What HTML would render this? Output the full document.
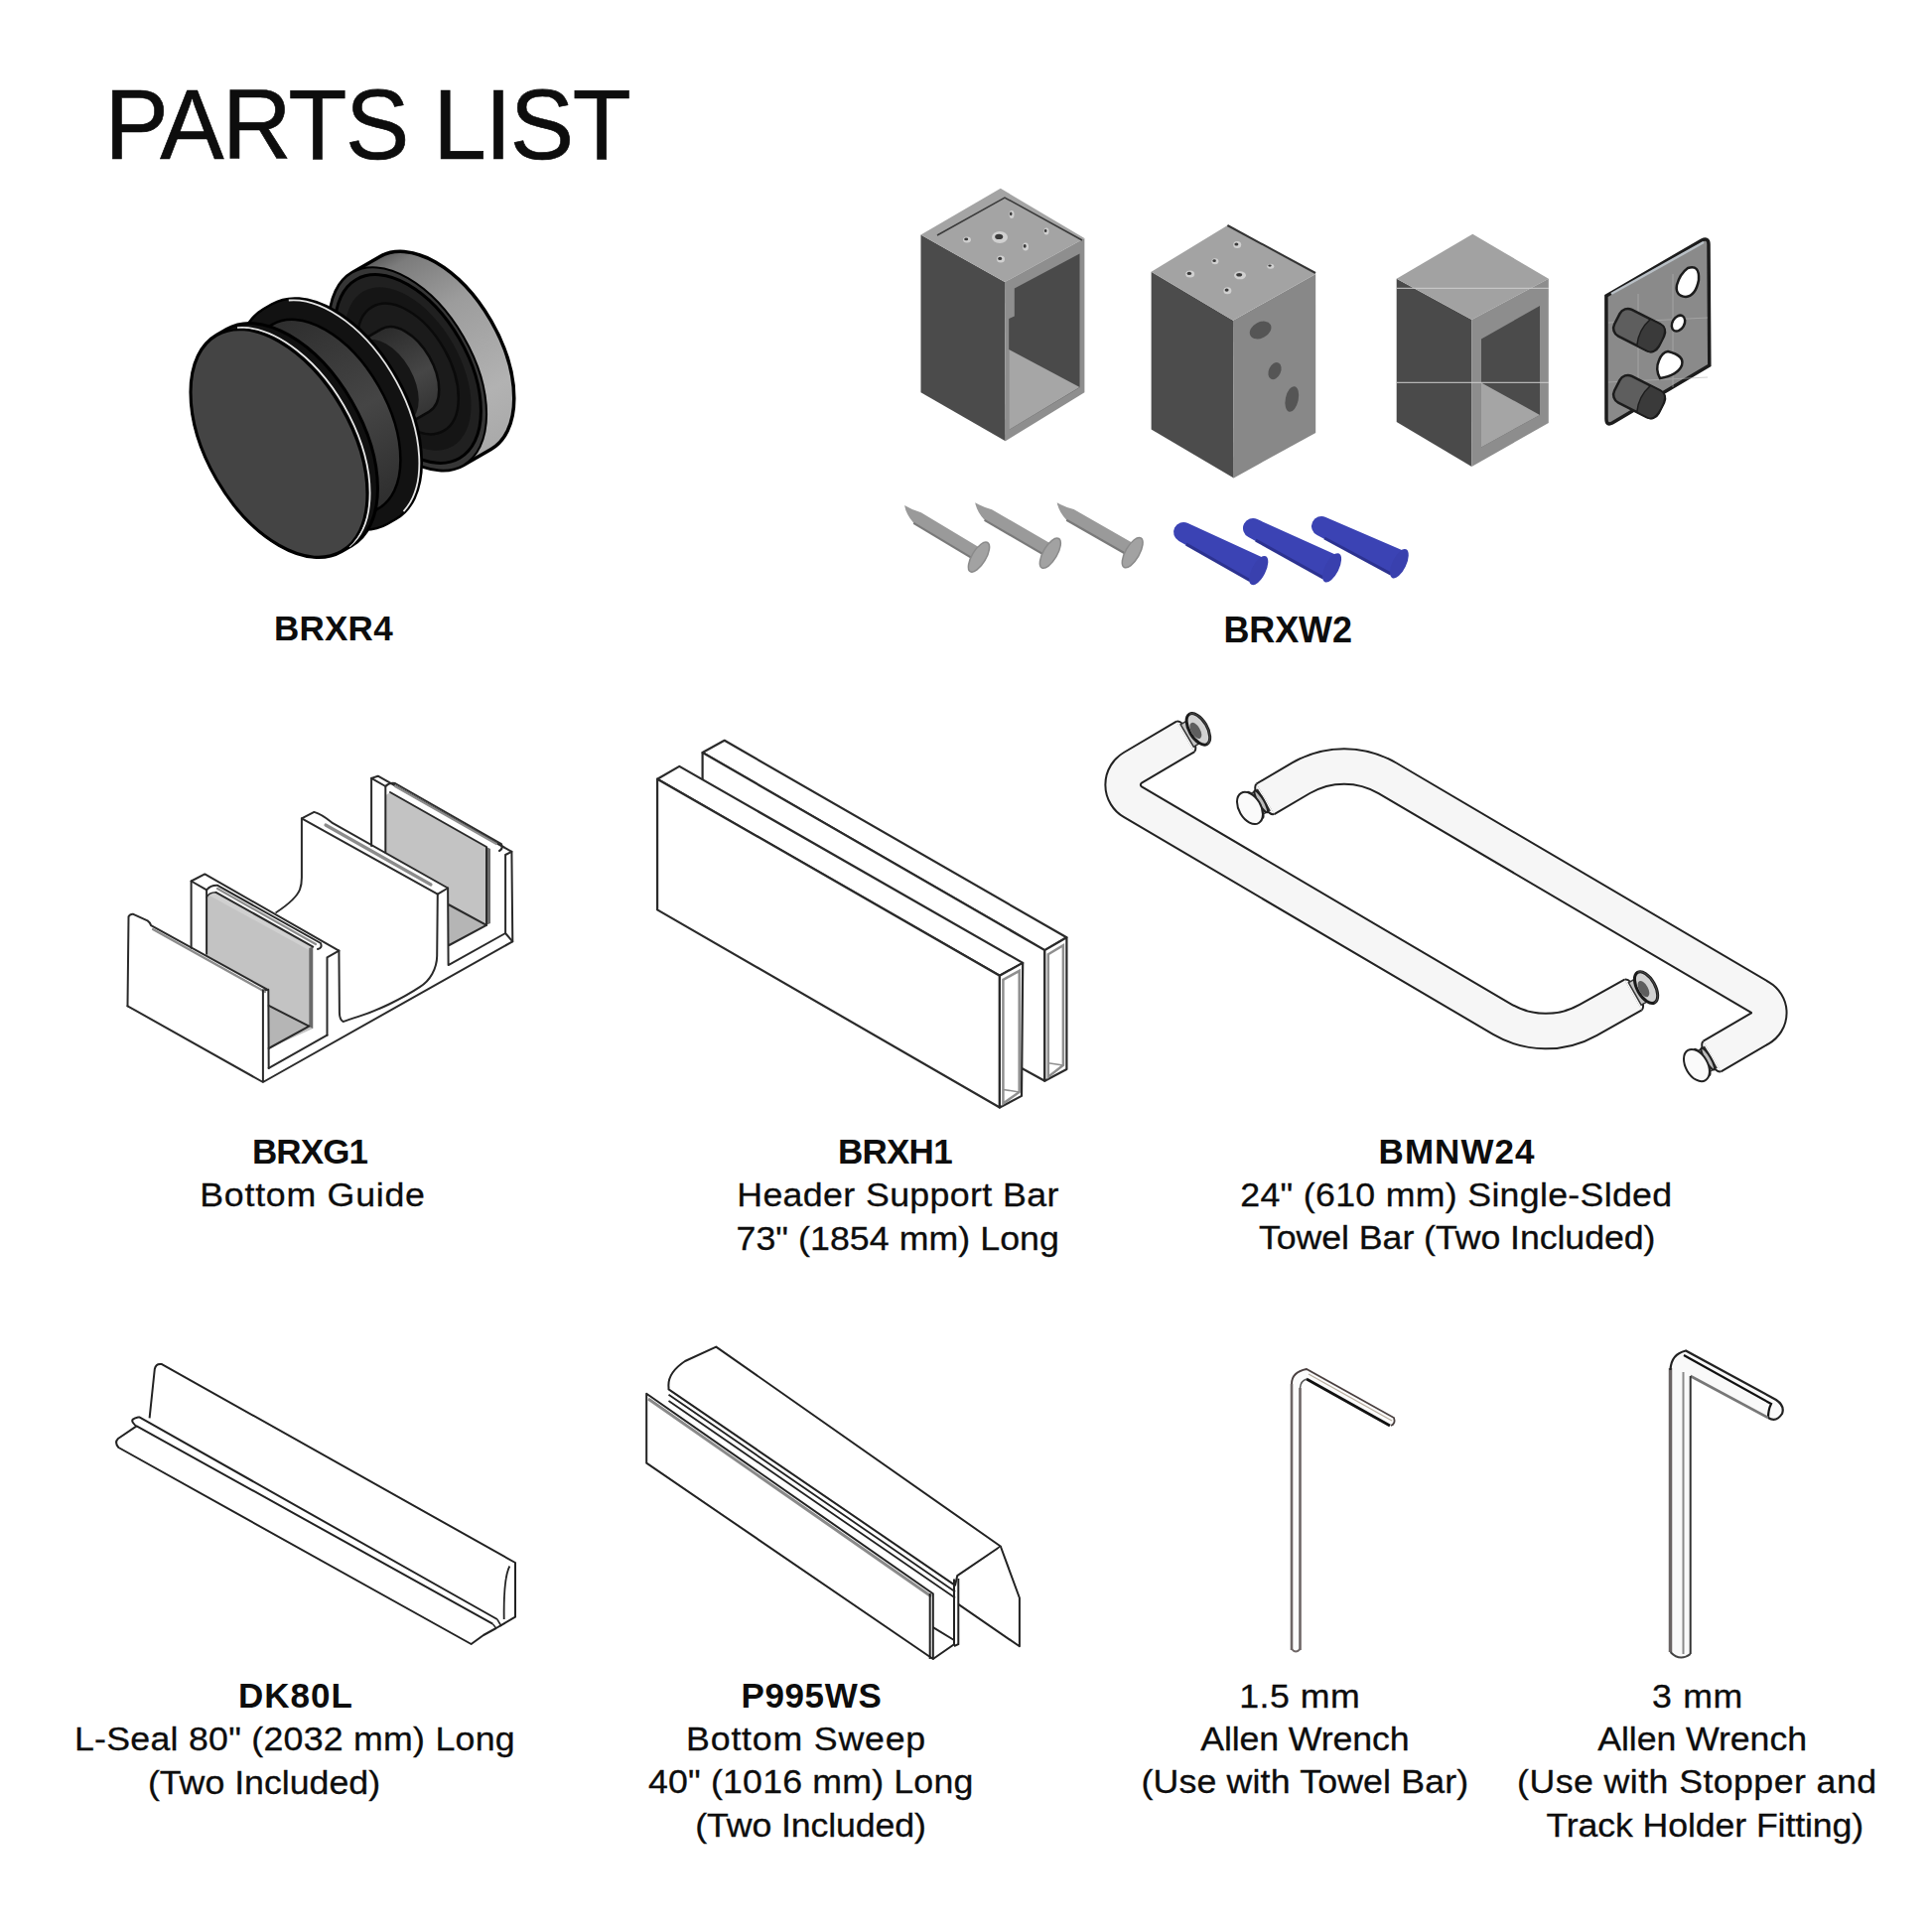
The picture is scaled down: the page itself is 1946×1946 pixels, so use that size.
<!DOCTYPE html>
<html><head><meta charset="utf-8"><title>Parts List</title>
<style>html,body{margin:0;padding:0;background:#fff;} svg{display:block;}</style></head>
<body><svg width="1946" height="1946" viewBox="0 0 1946 1946" font-family="'Liberation Sans', sans-serif" fill="#0d0d0d">
<rect width="1946" height="1946" fill="#fff"/>
<defs><linearGradient id="kband" x1="-120" y1="-150" x2="120" y2="-150" gradientUnits="userSpaceOnUse"><stop offset="0" stop-color="#505050"/><stop offset="0.1" stop-color="#7c7c7c"/><stop offset="0.35" stop-color="#9c9c9c"/><stop offset="0.75" stop-color="#b2b2b2"/><stop offset="1" stop-color="#a8a8a8"/></linearGradient><linearGradient id="kshaft" x1="-50" y1="0" x2="50" y2="0" gradientUnits="userSpaceOnUse"><stop offset="0" stop-color="#2a2a2a"/><stop offset="0.6" stop-color="#464646"/><stop offset="1" stop-color="#333"/></linearGradient><linearGradient id="kneck" x1="-106" y1="0" x2="106" y2="0" gradientUnits="userSpaceOnUse"><stop offset="0" stop-color="#2e2e2e"/><stop offset="0.55" stop-color="#454545"/><stop offset="1" stop-color="#2e2e2e"/></linearGradient></defs>
<g transform="translate(281,446.5) rotate(60)">
<path d="M-112,-150 L-112,-182 A112,64.62 0 0 1 112,-182 L112,-150 A112,64.62 0 0 1 -112,-150 Z" fill="url(#kband)" stroke="#000" stroke-width="3.5" />
<ellipse cx="0" cy="-150" rx="112" ry="64.62" fill="#363636" stroke="#000" stroke-width="2" />
<ellipse cx="0" cy="-150" rx="104" ry="60.01" fill="#202020" stroke="#000" stroke-width="3" />
<ellipse cx="0" cy="-150" rx="90" ry="51.93" fill="#151515" stroke="none" stroke-width="0" />
<ellipse cx="0" cy="-150" rx="72" ry="41.54" fill="#1b1b1b" stroke="#0a0a0a" stroke-width="2.5" />
<path d="M-48,-62 L-48,-147 A48,27.70 0 0 1 48,-147 L48,-62 A48,27.70 0 0 1 -48,-62 Z" fill="url(#kshaft)" stroke="#0a0a0a" stroke-width="2.5" />
<path d="M-46,-62 L-46,-125 A46,26.54 0 0 1 46,-125 L46,-62 A46,26.54 0 0 1 -46,-62 Z" fill="#161616" stroke="none" stroke-width="0" />
<path d="M-125,-54 L-125,-64 A125,72.12 0 0 1 125,-64 L125,-54 A125,72.12 0 0 1 -125,-54 Z" fill="#121212" stroke="#000" stroke-width="2.5" />
<path d="M-119.8,-80.5 A124,71.55 0 0 1 122.1,-74.4" fill="none" stroke="#e6e6e6" stroke-width="1.8"/>
<path d="M-107,-12 L-107,-54 A107,61.74 0 0 1 107,-54 L107,-12 A107,61.74 0 0 1 -107,-12 Z" fill="url(#kneck)" stroke="#000" stroke-width="2.5" />
<path d="M-126,0 L-126,-12 A126,72.70 0 0 1 126,-12 L126,0 A126,72.70 0 0 1 -126,0 Z" fill="#101010" stroke="#000" stroke-width="3" />
<path d="M-121.7,-21.8 A126,72.70 0 0 1 125.5,-9.3" fill="none" stroke="#e8e8e8" stroke-width="1.8"/>
<ellipse cx="0" cy="0" rx="125.5" ry="72.41" fill="#444444" stroke="#000" stroke-width="2.5" />
</g>
<polygon points="927.5,236.6 1012.0,284.1 1012.7,444.2 927.5,395.2" fill="#4b4b4b" stroke="none" stroke-width="0" />
<polygon points="927.5,236.6 1007.8,189.8 1092.4,240.1 1012.0,284.1" fill="#a4a4a4" stroke="none" stroke-width="0" />
<polygon points="1012.0,284.1 1092.4,240.1 1092.4,395.2 1012.7,444.2" fill="#8e8e8e" stroke="none" stroke-width="0" />
<polygon points="1021.8,290.4 1087.5,255.5 1087.5,390.3 1016.2,433.0 1016.2,321.0 1021.8,318.4" fill="#4a4a4a" stroke="none" stroke-width="0" />
<polygon points="1016.2,352.0 1087.5,390.0 1016.2,433.0" fill="#a6a6a6" stroke="none" stroke-width="0" />
<path d="M944,237 L1012,199 L1090,242" fill="none" stroke="#3a3a3a" stroke-width="1.5"/>
<ellipse cx="974" cy="241.5" rx="4" ry="3" fill="#d0d0d0"/><ellipse cx="973.2" cy="240.9" rx="2.0" ry="1.35" fill="#3a3a3a"/>
<ellipse cx="1007" cy="239" rx="8" ry="6" fill="#d0d0d0"/><ellipse cx="1006.2" cy="238.4" rx="4.0" ry="2.7" fill="#3a3a3a"/>
<ellipse cx="1033" cy="248.5" rx="3" ry="4" fill="#d0d0d0"/><ellipse cx="1032.2" cy="247.9" rx="1.5" ry="1.8" fill="#3a3a3a"/>
<ellipse cx="1008" cy="261" rx="4" ry="3.5" fill="#d0d0d0"/><ellipse cx="1007.2" cy="260.4" rx="2.0" ry="1.575" fill="#3a3a3a"/>
<ellipse cx="1019" cy="216" rx="2.5" ry="4" fill="#d0d0d0"/><ellipse cx="1018.2" cy="215.4" rx="1.25" ry="1.8" fill="#3a3a3a"/>
<ellipse cx="1054" cy="233" rx="2.5" ry="3.5" fill="#d0d0d0"/><ellipse cx="1053.2" cy="232.4" rx="1.25" ry="1.575" fill="#3a3a3a"/>
<polygon points="1159.6,273.8 1242.0,322.7 1242.7,481.4 1159.6,432.4" fill="#4c4c4c" stroke="none" stroke-width="0" />
<polygon points="1242.0,322.7 1325.2,275.9 1325.2,435.9 1242.7,481.4" fill="#888888" stroke="none" stroke-width="0" />
<polygon points="1159.6,273.8 1236.4,227.0 1325.2,275.9 1242.0,322.7" fill="#a3a3a3" stroke="none" stroke-width="0" />
<path d="M1236.4,227 L1325,275" stroke="#333" stroke-width="2" fill="none"/>
<ellipse cx="1269.6" cy="332.5" rx="11.5" ry="8" transform="rotate(-28 1269.6 332.5)" fill="#555"/>
<ellipse cx="1284" cy="373.6" rx="6" ry="9" transform="rotate(25 1284 373.6)" fill="#555"/>
<ellipse cx="1301.3" cy="402" rx="6.5" ry="13" transform="rotate(12 1301.3 402)" fill="#555"/>
<ellipse cx="1198.7" cy="276" rx="4.5" ry="3.5" fill="#d0d0d0"/><ellipse cx="1197.9" cy="275.4" rx="2.25" ry="1.575" fill="#3a3a3a"/>
<ellipse cx="1223.9" cy="263.3" rx="3.5" ry="3" fill="#d0d0d0"/><ellipse cx="1223.1000000000001" cy="262.7" rx="1.75" ry="1.35" fill="#3a3a3a"/>
<ellipse cx="1246.2" cy="246.6" rx="4" ry="3.5" fill="#d0d0d0"/><ellipse cx="1245.4" cy="246.0" rx="2.0" ry="1.575" fill="#3a3a3a"/>
<ellipse cx="1249" cy="277.3" rx="6" ry="4" fill="#d0d0d0"/><ellipse cx="1248.2" cy="276.7" rx="3.0" ry="1.8" fill="#3a3a3a"/>
<ellipse cx="1236.4" cy="292.7" rx="4" ry="3.5" fill="#d0d0d0"/><ellipse cx="1235.6000000000001" cy="292.09999999999997" rx="2.0" ry="1.575" fill="#3a3a3a"/>
<ellipse cx="1279.8" cy="268.2" rx="3.5" ry="2.5" fill="#d0d0d0"/><ellipse cx="1279.0" cy="267.59999999999997" rx="1.75" ry="1.125" fill="#3a3a3a"/>
<polygon points="1406.7,280.7 1482.4,322.1 1482.4,470.0 1406.7,425.0" fill="#4a4a4a" stroke="none" stroke-width="0" />
<polygon points="1406.7,280.7 1483.3,235.8 1559.8,280.7 1482.4,322.1" fill="#a2a2a2" stroke="none" stroke-width="0" />
<polygon points="1482.4,322.1 1559.8,280.7 1559.8,425.9 1482.4,470.0" fill="#8d8d8d" stroke="none" stroke-width="0" />
<polygon points="1492.0,341.4 1551.0,308.0 1551.0,418.0 1492.0,450.5" fill="#4b4b4b" stroke="none" stroke-width="0" />
<polygon points="1492.0,385.4 1551.0,418.0 1492.0,450.5" fill="#a5a5a5" stroke="none" stroke-width="0" />
<path d="M1407,290.4 L1560,290.4 M1407,385.4 L1560,385.4" stroke="#cfcfcf" stroke-width="1.3" opacity="0.8"/>
<path d="M1617.9,298 L1714,242 Q1721,239 1721,246 L1721.8,368 L1624,426 Q1618,429 1618,422 Z" fill="#8a8a8a" stroke="#1c1c1c" stroke-width="3.5"/>
<path d="M1623,296 L1716,244" stroke="#b9c0c6" stroke-width="2.5"/>
<path d="M1650,296 L1650,410 M1685,276 L1685,390 M1620,325 L1720,320 M1620,385 L1720,380" stroke="#b5b5b5" stroke-width="1" opacity="0.6"/>
<g transform="translate(1652,333) rotate(27)"><rect x="-26" y="-15" width="50" height="30" rx="9" fill="#5e5e5e" stroke="#1c1c1c" stroke-width="2.5"/><path d="M4,-15 L16,-15 Q24,-15 24,0 Q24,15 16,15 L4,15 Q-2,0 4,-15 Z" fill="#3a3a3a" stroke="#1c1c1c" stroke-width="1.5"/></g>
<g transform="translate(1652,400) rotate(27)"><rect x="-26" y="-15" width="50" height="30" rx="9" fill="#5e5e5e" stroke="#1c1c1c" stroke-width="2.5"/><path d="M4,-15 L16,-15 Q24,-15 24,0 Q24,15 16,15 L4,15 Q-2,0 4,-15 Z" fill="#3a3a3a" stroke="#1c1c1c" stroke-width="1.5"/></g>
<path d="M1700,270 Q1712,266 1711,282 Q1708,298 1698,299 Q1687,298 1689,287 Q1692,276 1700,270 Z" fill="#fff" stroke="#1c1c1c" stroke-width="2.5"/>
<ellipse cx="1690.5" cy="325.6" rx="6" ry="8.5" transform="rotate(30 1690.5 325.6)" fill="#fff" stroke="#1c1c1c" stroke-width="2.5"/>
<path d="M1680,354 Q1697,358 1694,368 Q1690,378 1672,381 Q1667,372 1671,363 Q1674,355 1680,354 Z" fill="#fff" stroke="#1c1c1c" stroke-width="2.5"/>
<g transform="translate(909,512.5) rotate(31)"><path d="M0,-4 Q10,-4 18,-6.5 L87,-6.5 L87,6.5 L17,6.5 Q6,3 0,-4 Z" fill="#9a9a9a"/><path d="M17,6.5 L87,6.5" stroke="#7a7a7a" stroke-width="2.2"/><ellipse cx="91" cy="2" rx="7" ry="17" fill="#a2a2a2" stroke="#8a8a8a" stroke-width="1.5"/></g>
<g transform="translate(980.2,509.7) rotate(30.2)"><path d="M0,-4 Q10,-4 18,-6.5 L87,-6.5 L87,6.5 L17,6.5 Q6,3 0,-4 Z" fill="#9a9a9a"/><path d="M17,6.5 L87,6.5" stroke="#7a7a7a" stroke-width="2.2"/><ellipse cx="91" cy="2" rx="7" ry="17" fill="#a2a2a2" stroke="#8a8a8a" stroke-width="1.5"/></g>
<g transform="translate(1062.7,509.7) rotate(29.8)"><path d="M0,-4 Q10,-4 18,-6.5 L87,-6.5 L87,6.5 L17,6.5 Q6,3 0,-4 Z" fill="#9a9a9a"/><path d="M17,6.5 L87,6.5" stroke="#7a7a7a" stroke-width="2.2"/><ellipse cx="91" cy="2" rx="7" ry="17" fill="#a2a2a2" stroke="#8a8a8a" stroke-width="1.5"/></g>
<g transform="translate(1192,536) rotate(27)"><path d="M0,-10 L82,-13.5 L82,13.5 L0,10 A10,10 0 0 1 0,-10 Z" fill="#3b43b4"/><path d="M8,9.5 L82,13" stroke="#2c3290" stroke-width="3"/><ellipse cx="85" cy="0" rx="7" ry="16" fill="#3940ae"/></g>
<g transform="translate(1262,532) rotate(26.6)"><path d="M0,-10 L86,-13.5 L86,13.5 L0,10 A10,10 0 0 1 0,-10 Z" fill="#3b43b4"/><path d="M8,9.5 L86,13" stroke="#2c3290" stroke-width="3"/><ellipse cx="89" cy="0" rx="7" ry="16" fill="#3940ae"/></g>
<g transform="translate(1331,530) rotate(25.7)"><path d="M0,-10 L84,-13.5 L84,13.5 L0,10 A10,10 0 0 1 0,-10 Z" fill="#3b43b4"/><path d="M8,9.5 L84,13" stroke="#2c3290" stroke-width="3"/><ellipse cx="87" cy="0" rx="7" ry="16" fill="#3940ae"/></g>
<polygon points="208.1,904.0 212.0,899.5 217.6,898.8 315.2,953.6 315.2,1036.0 270.7,1056.0 270.7,996.3 208.1,962.9" fill="#c3c3c3" stroke="none" stroke-width="0" />
<polygon points="270.7,1012.9 311.3,1033.6 270.7,1056.0" fill="#b5b5b5" stroke="none" stroke-width="0" />
<polygon points="211.0,902.0 217.6,898.8 315.2,953.6 313.0,958.0" fill="#d0d0d0" stroke="none" stroke-width="0" />
<polygon points="311.3,955.0 315.2,953.6 315.2,1036.0 311.3,1034.0" fill="#6a6a6a" stroke="none" stroke-width="0" />
<polygon points="388.3,801.3 393.0,798.0 490.0,853.0 490.0,931.8 451.6,952.5 451.6,894.5 440.8,900.7 451.1,894.5 388.3,858.6" fill="#c3c3c3" stroke="none" stroke-width="0" />
<polygon points="451.6,911.0 490.0,931.8 451.6,952.5" fill="#b5b5b5" stroke="none" stroke-width="0" />
<polygon points="490.0,853.0 494.0,855.0 494.0,930.0 490.0,931.8" fill="#6a6a6a" stroke="none" stroke-width="0" />
<path d="M128.5,1013.3 L129.5,923.2 Q131,920.5 134.3,920.8 L148.6,927.4 Q151,929 152.1,932.1 L269.8,997 L264.9,997.5" fill="none" stroke="#2a2a2a" stroke-width="2" stroke-linejoin="round" stroke-linecap="round"/>
<path d="M154,936 L267,999" fill="none" stroke="#8c8c8c" stroke-width="2.2" stroke-linejoin="round" stroke-linecap="round"/>
<path d="M264.9,997.5 L264.9,1090 M270.3,996.8 L270.7,1075.9 M128.5,1013.3 L264.9,1090 L516.3,948.3 L515.4,857.8" fill="none" stroke="#2a2a2a" stroke-width="2" stroke-linejoin="round" stroke-linecap="round"/>
<path d="M270.7,1075.9 L329.5,1042.7 M270.7,1056 L311.3,1033.6 M270.7,1012.9 L311.3,1033.6" fill="none" stroke="#2a2a2a" stroke-width="2" stroke-linejoin="round" stroke-linecap="round"/>
<path d="M192.6,954.8 L192.6,887.5 L206.3,880.4 L341.4,957.7 L329.5,964.3 L329.5,1042.7" fill="none" stroke="#2a2a2a" stroke-width="2" stroke-linejoin="round" stroke-linecap="round"/>
<path d="M192.6,887.5 L208.1,896.4 Q212,891.5 218.8,891.7 L323,950 Q325,955 320,956" fill="none" stroke="#2a2a2a" stroke-width="2" stroke-linejoin="round" stroke-linecap="round"/>
<path d="M219,895 L318,951" fill="none" stroke="#8c8c8c" stroke-width="2.2" stroke-linejoin="round" stroke-linecap="round"/>
<path d="M208.1,896.4 L208.1,960.7" fill="none" stroke="#2a2a2a" stroke-width="2" stroke-linejoin="round" stroke-linecap="round"/>
<path d="M217.6,898.8 L315.2,953.6" fill="none" stroke="#2a2a2a" stroke-width="2" stroke-linejoin="round" stroke-linecap="round"/>
<path d="M208.1,904 Q210,899 217.6,898.8" fill="none" stroke="#2a2a2a" stroke-width="1.5" stroke-linejoin="round" stroke-linecap="round"/>
<path d="M278.3,919 Q298,906 302,896 Q303.9,891 303.9,884 L303.9,824.4 L316.4,817.9 Q324,820 334.3,828.6 L451.1,894.5 L440.8,900.7 L440.2,962.8 C440,976 433,988 423.2,993.9 C405,1006 380,1018 361.1,1023.9 Q349,1028 345.5,1029 Q342,1027 341.9,1020 L341.4,957.6" fill="none" stroke="#2a2a2a" stroke-width="2" stroke-linejoin="round" stroke-linecap="round"/>
<path d="M303.9,824.4 L440.8,900.7" fill="none" stroke="#2a2a2a" stroke-width="2" stroke-linejoin="round" stroke-linecap="round"/>
<path d="M328,831 L434,891" fill="none" stroke="#8c8c8c" stroke-width="3.2" stroke-linejoin="round" stroke-linecap="round"/>
<path d="M451.1,894.5 L451.6,972.1 L509.1,940 M451.6,952.5 L490,931.8 M451.6,911 L490,931.8" fill="none" stroke="#2a2a2a" stroke-width="2" stroke-linejoin="round" stroke-linecap="round"/>
<path d="M374.1,852 L374.1,783.9 L380.7,781.7 L515.4,857.8 L509.1,861 L509.1,940 M516.3,948.3 L509.1,940" fill="none" stroke="#2a2a2a" stroke-width="2" stroke-linejoin="round" stroke-linecap="round"/>
<path d="M374.1,783.9 L388.3,792 Q392,788 398,789 L505,850 Q507,855 503,857" fill="none" stroke="#2a2a2a" stroke-width="2" stroke-linejoin="round" stroke-linecap="round"/>
<path d="M398,792 L500,850" fill="none" stroke="#8c8c8c" stroke-width="2.2" stroke-linejoin="round" stroke-linecap="round"/>
<path d="M388.3,792 L388.3,858.6 M393,798 L490,853 L490,931.8" fill="none" stroke="#2a2a2a" stroke-width="2" stroke-linejoin="round" stroke-linecap="round"/>
<polygon points="707.6,758.0 729.7,745.8 1074.4,944.3 1052.3,957.1" fill="#fff" stroke="#2a2a2a" stroke-width="2.2" stroke-linejoin="round"/><polygon points="707.6,758.0 1052.3,957.1 1052.3,1088.7 707.6,900.0" fill="#fff" stroke="#2a2a2a" stroke-width="2.2" stroke-linejoin="round"/><polygon points="1052.3,957.1 1074.4,944.3 1074.4,1077.0 1052.3,1088.7" fill="#fff" stroke="#2a2a2a" stroke-width="2.2" stroke-linejoin="round"/><polygon points="1055.8,961.2 1070.9,952.2 1070.9,1073.0 1055.8,1084.7" fill="#fff" stroke="#8f8f8f" stroke-width="2.5" /><polyline points="1055.8,1070.7 1070.9,1073.0" fill="none" stroke="#8f8f8f" stroke-width="1.5" stroke-linejoin="round"/>
<polygon points="662.1,784.7 684.3,771.9 1030.2,969.9 1006.9,982.7" fill="#fff" stroke="#2a2a2a" stroke-width="2.2" stroke-linejoin="round"/><polygon points="662.1,784.7 1006.9,982.7 1006.9,1115.5 662.1,916.4" fill="#fff" stroke="#2a2a2a" stroke-width="2.2" stroke-linejoin="round"/><polygon points="1006.9,982.7 1030.2,969.9 1029.0,1103.9 1006.9,1115.5" fill="#fff" stroke="#2a2a2a" stroke-width="2.2" stroke-linejoin="round"/><polygon points="1010.4,986.8 1026.7,977.8 1026.7,1099.9 1010.4,1111.5" fill="#fff" stroke="#8f8f8f" stroke-width="2.5" /><polyline points="1010.4,1097.5 1026.7,1099.9" fill="none" stroke="#8f8f8f" stroke-width="1.5" stroke-linejoin="round"/>
<path d="M1194.0,742.0 L1140.9,773.3 A20,20 0 0 0 1140.9,807.7 L1513.0,1026.6 A87,87 0 0 0 1599.8,1027.4 L1645.0,1002.0" fill="none" stroke="#222" stroke-width="37.5"/>
<path d="M1194.0,742.0 L1140.9,773.3 A20,20 0 0 0 1140.9,807.7 L1513.0,1026.6 A87,87 0 0 0 1599.8,1027.4 L1645.0,1002.0" fill="none" stroke="#f6f6f6" stroke-width="33.5"/>
<path d="M1274.5,804.8 L1310.4,783.7 A86,86 0 0 1 1397.5,783.8 L1772.9,1004.6 A18,18 0 0 1 1772.9,1035.7 L1724.5,1064.0" fill="none" stroke="#222" stroke-width="37.5"/>
<path d="M1274.5,804.8 L1310.4,783.7 A86,86 0 0 1 1397.5,783.8 L1772.9,1004.6 A18,18 0 0 1 1772.9,1035.7 L1724.5,1064.0" fill="none" stroke="#f6f6f6" stroke-width="33.5"/>
<g transform="translate(1194.0,742.0) rotate(-30.5)"><path d="M0,-17.5 A6,17.5 0 0 1 0,17.5" fill="#f6f6f6" stroke="#222" stroke-width="2"/><rect x="2" y="-13" width="12" height="26" fill="#c4c4c4" stroke="#333" stroke-width="1.5"/><ellipse cx="15" cy="0" rx="9" ry="17.5" fill="#d2d2d2" stroke="#1a1a1a" stroke-width="3"/><ellipse cx="12" cy="0" rx="4.5" ry="9" fill="#5e5e5e"/><path d="M15,-17.5 A9,17.5 0 0 1 15,17.5" fill="none" stroke="#444" stroke-width="1.2"/></g>
<g transform="translate(1645.0,1002.0) rotate(-29.4)"><path d="M0,-17.5 A6,17.5 0 0 1 0,17.5" fill="#f6f6f6" stroke="#222" stroke-width="2"/><rect x="2" y="-13" width="12" height="26" fill="#c4c4c4" stroke="#333" stroke-width="1.5"/><ellipse cx="15" cy="0" rx="9" ry="17.5" fill="#d2d2d2" stroke="#1a1a1a" stroke-width="3"/><ellipse cx="12" cy="0" rx="4.5" ry="9" fill="#5e5e5e"/><path d="M15,-17.5 A9,17.5 0 0 1 15,17.5" fill="none" stroke="#444" stroke-width="1.2"/></g>
<g transform="translate(1274.5,804.8) rotate(149.6)"><path d="M0,-17.5 A6,17.5 0 0 1 0,17.5" fill="#f6f6f6" stroke="#222" stroke-width="2"/><rect x="2" y="-12" width="11" height="24" fill="#d2d2d2" stroke="#333" stroke-width="1.5"/><ellipse cx="5" cy="0" rx="3" ry="12.5" fill="#bbb" stroke="#222" stroke-width="2.2"/><ellipse cx="12" cy="0" rx="3.5" ry="15" fill="#ddd" stroke="#222" stroke-width="2.2"/><ellipse cx="18" cy="0" rx="11" ry="17.5" fill="#fafafa" stroke="#222" stroke-width="2"/></g>
<g transform="translate(1724.5,1064.0) rotate(149.7)"><path d="M0,-17.5 A6,17.5 0 0 1 0,17.5" fill="#f6f6f6" stroke="#222" stroke-width="2"/><rect x="2" y="-12" width="11" height="24" fill="#d2d2d2" stroke="#333" stroke-width="1.5"/><ellipse cx="5" cy="0" rx="3" ry="12.5" fill="#bbb" stroke="#222" stroke-width="2.2"/><ellipse cx="12" cy="0" rx="3.5" ry="15" fill="#ddd" stroke="#222" stroke-width="2.2"/><ellipse cx="18" cy="0" rx="11" ry="17.5" fill="#fafafa" stroke="#222" stroke-width="2"/></g>
<path d="M150.6,1428.3 L155.8,1379 Q157,1373 163,1374.1 L519,1574 L519,1628.7 L499.7,1640 L487,1647 L474.6,1656 L119.4,1458 Q115,1453 119,1449 L137.6,1436.3" fill="#fff" stroke="#222" stroke-width="2" stroke-linejoin="round"/>
<path d="M139.9,1427.2 L500.8,1631 M137.6,1436.3 L496.3,1635.6 M139.9,1427.2 Q131,1429 134,1433 Q136,1436 137.6,1436.3" fill="none" stroke="#222" stroke-width="2"/>
<path d="M513.3,1577.5 Q507,1590 507.7,1631" fill="none" stroke="#222" stroke-width="1.8"/>
<path d="M500.8,1631 L505,1638 M496.3,1635.6 L499.7,1640" fill="none" stroke="#222" stroke-width="1.5"/>
<path d="M673.5,1397.3 Q672,1383 690,1371 L721.3,1356.6 L1007.8,1557.5 L964.2,1587.2 L962.1,1596.8 L673.5,1399.4 Z" fill="#fff" stroke="#222" stroke-width="2" stroke-linejoin="round"/>
<path d="M673.5,1404.7 L962.1,1603.2 M673.5,1411.1 L962.1,1609.5" fill="none" stroke="#222" stroke-width="1.8"/>
<path d="M1007.8,1557.5 L1026.9,1609.5 L1026.9,1658.3 L965.3,1615.9" fill="#fff" stroke="#222" stroke-width="2" stroke-linejoin="round"/>
<path d="M651.2,1403.7 L939.8,1605.3 L939.8,1671 L651.2,1473.7 Z" fill="#fff" stroke="#222" stroke-width="2" stroke-linejoin="round"/>
<path d="M653,1409 L938,1608" stroke="#8a8a8a" stroke-width="3"/>
<path d="M939.8,1671 L961,1656.2 L961,1590.4 M965.3,1590 L965.3,1656.2 L961,1658 M939.8,1639.2 L961,1652 M936.7,1605 L936.7,1671" fill="none" stroke="#222" stroke-width="2"/>
<path d="M1301,1662 L1301,1394 Q1301,1382 1316,1379 L1404,1428 Q1406,1434 1401,1436 L1316,1389 Q1310,1391 1310,1398 L1310,1662 Q1305,1664 1301,1662 Z" fill="#fbfbfb" stroke="none"/>
<path d="M1301,1662 L1301,1394 M1309.5,1398 L1309.5,1662" fill="none" stroke="#6e6666" stroke-width="2.6"/>
<path d="M1301,1394 Q1301,1382 1316,1379 L1404,1428 Q1406,1434 1401,1436" fill="none" stroke="#4a4040" stroke-width="1.8"/>
<path d="M1318,1384 L1402,1431" fill="none" stroke="#b9aea0" stroke-width="1.2"/>
<path d="M1316,1389 L1400,1436" stroke="#111" stroke-width="2.8"/>
<path d="M1316,1389 Q1310,1391 1309.5,1398" fill="none" stroke="#555" stroke-width="1.5"/>
<path d="M1301,1661 Q1305,1666 1309.5,1661" fill="none" stroke="#6e6666" stroke-width="2"/>
<path d="M1682.5,1666 L1682.5,1378 Q1683,1364 1698,1360.5 L1789,1410 Q1798,1416 1795,1424 Q1789,1433 1781,1428 L1705,1387 L1702.7,1666 Q1692,1672 1682.5,1666 Z" fill="#f9f9f9" stroke="none"/>
<path d="M1682.5,1664 L1682.5,1378" fill="none" stroke="#6a6464" stroke-width="3.5"/>
<path d="M1682.5,1380 Q1683,1364 1698,1360.5 L1789,1410 Q1798,1416 1795,1424 Q1789,1433 1781,1428" fill="none" stroke="#222" stroke-width="2.2"/>
<path d="M1696,1365 L1784,1414 Q1781,1420 1781,1428" fill="none" stroke="#111" stroke-width="2.2"/>
<path d="M1702.7,1386 L1781,1428" fill="none" stroke="#777" stroke-width="2.6"/>
<path d="M1702.7,1386 L1702.7,1666" fill="none" stroke="#333" stroke-width="2"/>
<path d="M1695.5,1382 L1695.5,1666" fill="none" stroke="#8a8a8a" stroke-width="2"/>
<path d="M1682.5,1664 Q1692,1674 1702.7,1666" fill="none" stroke="#444" stroke-width="2"/>
<text transform="translate(105.4,160) scale(0.955,1)" font-size="101" font-weight="400" textLength="555.3" lengthAdjust="spacing" stroke="#0d0d0d" stroke-width="0.7">PARTS LIST</text>
<text transform="translate(276.0,645) scale(1.0,1)" font-size="35" font-weight="700" textLength="119.6" lengthAdjust="spacing">BRXR4</text>
<text transform="translate(1232.5,646.5) scale(1.0,1)" font-size="36" font-weight="700" textLength="129.5" lengthAdjust="spacing">BRXW2</text>
<text transform="translate(254.0,1172.3) scale(1.0,1)" font-size="35" font-weight="700" textLength="116.9" lengthAdjust="spacing">BRXG1</text>
<text transform="translate(201.3,1215.4) scale(1.05,1)" font-size="34" font-weight="400" textLength="215.8" lengthAdjust="spacing" stroke="#0d0d0d" stroke-width="0.3">Bottom Guide</text>
<text transform="translate(844.0,1172.2) scale(1.0,1)" font-size="35" font-weight="700" textLength="115.6" lengthAdjust="spacing">BRXH1</text>
<text transform="translate(742.2,1214.6) scale(1.05,1)" font-size="34" font-weight="400" textLength="308.7" lengthAdjust="spacing" stroke="#0d0d0d" stroke-width="0.3">Header Support Bar</text>
<text transform="translate(741.5,1258.7) scale(1.05,1)" font-size="34" font-weight="400" textLength="309.9" lengthAdjust="spacing" stroke="#0d0d0d" stroke-width="0.3">73&quot; (1854 mm) Long</text>
<text transform="translate(1388.6,1172.4) scale(1.0,1)" font-size="35" font-weight="700" textLength="156.9" lengthAdjust="spacing">BMNW24</text>
<text transform="translate(1249.3,1215) scale(1.05,1)" font-size="34" font-weight="400" textLength="414.1" lengthAdjust="spacing" stroke="#0d0d0d" stroke-width="0.3">24&quot; (610 mm) Single-Slded</text>
<text transform="translate(1268.0,1258) scale(1.05,1)" font-size="34" font-weight="400" textLength="380.4" lengthAdjust="spacing" stroke="#0d0d0d" stroke-width="0.3">Towel Bar (Two Included)</text>
<text transform="translate(240.0,1719.7) scale(1.0,1)" font-size="35" font-weight="700" textLength="114.9" lengthAdjust="spacing">DK80L</text>
<text transform="translate(75.0,1762.7) scale(1.05,1)" font-size="34" font-weight="400" textLength="422.5" lengthAdjust="spacing" stroke="#0d0d0d" stroke-width="0.3">L-Seal 80&quot; (2032 mm) Long</text>
<text transform="translate(148.9,1806.5) scale(1.05,1)" font-size="34" font-weight="400" textLength="223.0" lengthAdjust="spacing" stroke="#0d0d0d" stroke-width="0.3">(Two Included)</text>
<text transform="translate(746.4,1720.2) scale(1.0,1)" font-size="35" font-weight="700" textLength="141.4" lengthAdjust="spacing">P995WS</text>
<text transform="translate(691.1,1763.3) scale(1.05,1)" font-size="34" font-weight="400" textLength="229.6" lengthAdjust="spacing" stroke="#0d0d0d" stroke-width="0.3">Bottom Sweep</text>
<text transform="translate(653.0,1806.4) scale(1.05,1)" font-size="34" font-weight="400" textLength="311.7" lengthAdjust="spacing" stroke="#0d0d0d" stroke-width="0.3">40&quot; (1016 mm) Long</text>
<text transform="translate(700.3,1850) scale(1.05,1)" font-size="34" font-weight="400" textLength="221.5" lengthAdjust="spacing" stroke="#0d0d0d" stroke-width="0.3">(Two Included)</text>
<text transform="translate(1248.2,1719.7) scale(1.05,1)" font-size="34" font-weight="400" textLength="115.7" lengthAdjust="spacing" stroke="#0d0d0d" stroke-width="0.3">1.5 mm</text>
<text transform="translate(1209.3,1762.9) scale(1.05,1)" font-size="34" font-weight="400" textLength="200.3" lengthAdjust="spacing" stroke="#0d0d0d" stroke-width="0.3">Allen Wrench</text>
<text transform="translate(1149.5,1806.3) scale(1.05,1)" font-size="34" font-weight="400" textLength="314.0" lengthAdjust="spacing" stroke="#0d0d0d" stroke-width="0.3">(Use with Towel Bar)</text>
<text transform="translate(1664.0,1720) scale(1.05,1)" font-size="34" font-weight="400" textLength="87.0" lengthAdjust="spacing" stroke="#0d0d0d" stroke-width="0.3">3 mm</text>
<text transform="translate(1609.3,1762.8) scale(1.05,1)" font-size="34" font-weight="400" textLength="200.7" lengthAdjust="spacing" stroke="#0d0d0d" stroke-width="0.3">Allen Wrench</text>
<text transform="translate(1528.1,1806.2) scale(1.05,1)" font-size="34" font-weight="400" textLength="344.7" lengthAdjust="spacing" stroke="#0d0d0d" stroke-width="0.3">(Use with Stopper and</text>
<text transform="translate(1557.4,1849.6) scale(1.05,1)" font-size="34" font-weight="400" textLength="304.6" lengthAdjust="spacing" stroke="#0d0d0d" stroke-width="0.3">Track Holder Fitting)</text>
</svg></body></html>
